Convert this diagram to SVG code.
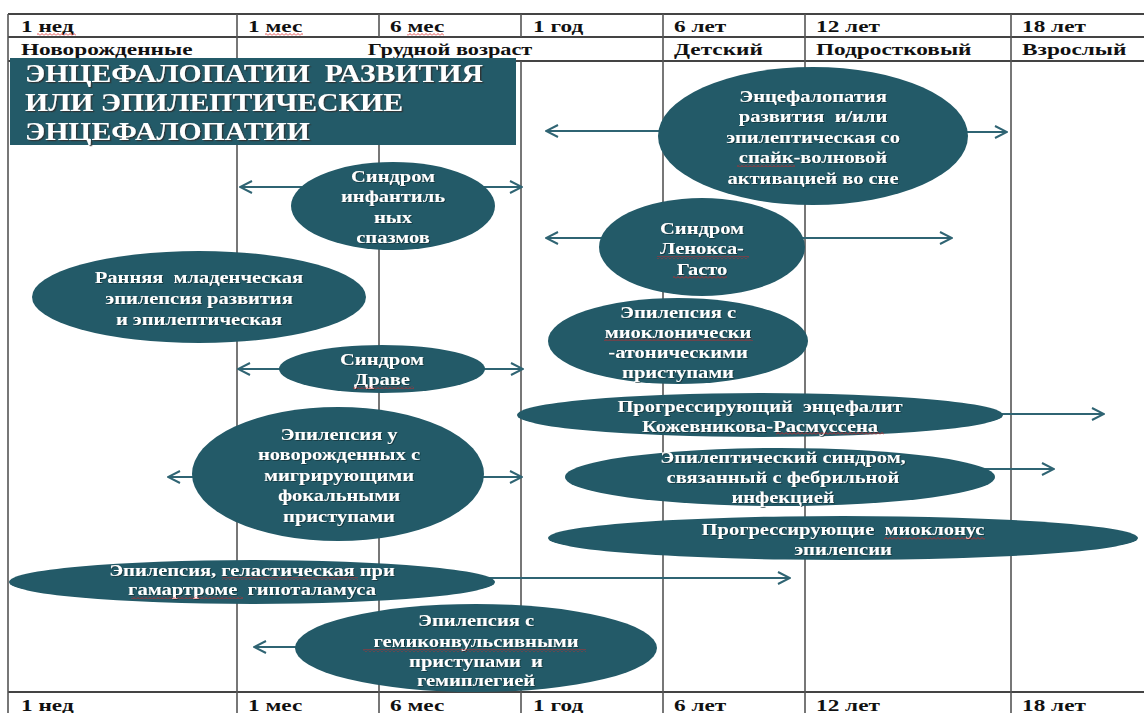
<svg xmlns="http://www.w3.org/2000/svg" width="1144" height="713" viewBox="0 0 1144 713">
<style>
.grid{stroke:#555;stroke-width:1.6;fill:none}
.hl{stroke:#444;stroke-width:2;fill:none}
.hd{font-family:"Liberation Serif",serif;font-weight:bold;font-size:17px;fill:#111}
.el{fill:#235a68}
.t{font-family:"Liberation Serif",serif;font-weight:bold;font-size:16px;fill:#fff;text-anchor:middle;filter:url(#sh)}
.tt{font-family:"Liberation Serif",serif;font-weight:bold;font-size:25px;fill:#fff;filter:url(#sh2)}
.ar{stroke:#2f6473;stroke-width:2.2;fill:none;marker-end:url(#ah)}
.wv{fill:url(#wave)}
</style>
<defs>
<marker id="ah" viewBox="0 0 14 14" refX="13" refY="7" markerWidth="14" markerHeight="14" markerUnits="userSpaceOnUse" orient="auto">
<path d="M1,1 L13,7 L1,13" fill="none" stroke="#2f6473" stroke-width="2"/>
</marker>
<filter id="sh" x="-10%" y="-30%" width="120%" height="160%">
<feDropShadow dx="0.8" dy="0.8" stdDeviation="0.4" flood-color="#0b2a30" flood-opacity="0.8"/>
</filter>
<filter id="sh2" x="-10%" y="-30%" width="120%" height="160%">
<feDropShadow dx="1.2" dy="1.2" stdDeviation="0.5" flood-color="#333" flood-opacity="0.9"/>
</filter>
<pattern id="wave" width="4" height="3" patternUnits="userSpaceOnUse">
<path d="M0,2.5 L2,0.5 L4,2.5" fill="none" stroke="#d22" stroke-width="0.8"/>
</pattern>
</defs>
<rect width="1144" height="713" fill="#fff"/>

<g id="grid">
<line class="hl" x1="8" y1="14" x2="1144" y2="14"/>
<line class="hl" x1="8" y1="37" x2="1144" y2="37"/>
<line class="hl" x1="8" y1="61" x2="1144" y2="61"/>
<line class="hl" x1="8" y1="692" x2="1144" y2="692" stroke-width="2.6"/>
<line class="grid" x1="8" y1="14" x2="8" y2="713"/>
<line class="grid" x1="237" y1="14" x2="237" y2="713"/>
<line class="grid" x1="379" y1="14" x2="379" y2="37"/>
<line class="grid" x1="379" y1="61" x2="379" y2="713"/>
<line class="grid" x1="521" y1="14" x2="521" y2="37"/>
<line class="grid" x1="521" y1="61" x2="521" y2="713"/>
<line class="grid" x1="663" y1="14" x2="663" y2="713"/>
<line class="grid" x1="805" y1="14" x2="805" y2="713"/>
<line class="grid" x1="1011" y1="14" x2="1011" y2="713"/>
</g>

<g id="header">
<text class="hd" transform="translate(21 32) scale(1.37 1)">1 нед</text>
<text class="hd" transform="translate(248 32) scale(1.37 1)">1 мес</text>
<text class="hd" transform="translate(390 32) scale(1.37 1)">6 мес</text>
<text class="hd" transform="translate(533 32) scale(1.37 1)">1 год</text>
<text class="hd" transform="translate(674 32) scale(1.37 1)">6 лет</text>
<text class="hd" transform="translate(816 32) scale(1.37 1)">12 лет</text>
<text class="hd" transform="translate(1022 32) scale(1.37 1)">18 лет</text>
<text class="hd" transform="translate(21 55) scale(1.37 1)">Новорожденные</text>
<text class="hd" transform="translate(450 55) scale(1.31 1)" text-anchor="middle">Грудной возраст</text>
<text class="hd" transform="translate(674 55) scale(1.37 1)">Детский</text>
<text class="hd" transform="translate(816 55) scale(1.37 1)">Подростковый</text>
<text class="hd" transform="translate(1022 55) scale(1.37 1)">Взрослый</text>
<text class="hd" transform="translate(21 711) scale(1.37 1)">1 нед</text>
<text class="hd" transform="translate(248 711) scale(1.37 1)">1 мес</text>
<text class="hd" transform="translate(390 711) scale(1.37 1)">6 мес</text>
<text class="hd" transform="translate(533 711) scale(1.37 1)">1 год</text>
<text class="hd" transform="translate(674 711) scale(1.37 1)">6 лет</text>
<text class="hd" transform="translate(816 711) scale(1.37 1)">12 лет</text>
<text class="hd" transform="translate(1022 711) scale(1.37 1)">18 лет</text>
</g>

<g id="title">
<rect x="10" y="58" width="506" height="87" fill="#235a68"/>
<text class="tt" transform="translate(25 82) scale(1.19 1)">ЭНЦЕФАЛОПАТИИ&#160; РАЗВИТИЯ</text>
<text class="tt" transform="translate(25 111) scale(1.19 1)">ИЛИ ЭПИЛЕПТИЧЕСКИЕ</text>
<text class="tt" transform="translate(25 140) scale(1.19 1)">ЭНЦЕФАЛОПАТИИ</text>
</g>

<g id="connectors">
<line class="ar" x1="700" y1="131" x2="546" y2="131"/>
<line class="ar" x1="930" y1="132" x2="1007" y2="132"/>
<line class="ar" x1="330" y1="187" x2="240" y2="187"/>
<line class="ar" x1="460" y1="187" x2="522" y2="187"/>
<line class="ar" x1="640" y1="238" x2="546" y2="238"/>
<line class="ar" x1="760" y1="238" x2="952" y2="238"/>
<line class="ar" x1="320" y1="369" x2="238" y2="369"/>
<line class="ar" x1="440" y1="369" x2="523" y2="369"/>
<line class="ar" x1="980" y1="414" x2="1104" y2="414"/>
<line class="ar" x1="220" y1="477" x2="168" y2="477"/>
<line class="ar" x1="460" y1="477" x2="522" y2="477"/>
<line class="ar" x1="960" y1="469" x2="1054" y2="469"/>
<line class="ar" x1="450" y1="578" x2="790" y2="578"/>
<line class="ar" x1="330" y1="647" x2="254" y2="647"/>
</g>

<g id="n1">
<ellipse class="el" cx="813" cy="136" rx="155" ry="69"/>
<g transform="translate(813 0) scale(1.28 1)">
<text class="t" x="0" y="102">Энцефалопатия</text>
<text class="t" x="0" y="122">развития&#160; и/или</text>
<text class="t" x="0" y="143">эпилептическая со</text>
<text class="t" x="0" y="163">спайк-волновой</text>
<text class="t" x="0" y="184">активацией во сне</text>
</g>
</g>

<g id="n2">
<ellipse class="el" cx="393" cy="206" rx="102" ry="44"/>
<g transform="translate(393 0) scale(1.28 1)">
<text class="t" x="0" y="182">Синдром</text>
<text class="t" x="0" y="202">инфантиль</text>
<text class="t" x="0" y="223">ных</text>
<text class="t" x="0" y="243">спазмов</text>
</g>
</g>

<g id="n3">
<ellipse class="el" cx="702" cy="247" rx="103" ry="49"/>
<g transform="translate(702 0) scale(1.28 1)">
<text class="t" x="0" y="234">Синдром</text>
<text class="t" x="0" y="254">Ленокса-</text>
<text class="t" x="0" y="275">Гасто</text>
</g>
</g>

<g id="n4">
<ellipse class="el" cx="199" cy="297" rx="167" ry="46"/>
<g transform="translate(199 0) scale(1.28 1)">
<text class="t" x="0" y="283">Ранняя&#160; младенческая</text>
<text class="t" x="0" y="304">эпилепсия развития</text>
<text class="t" x="0" y="325">и эпилептическая</text>
</g>
</g>

<g id="n5">
<ellipse class="el" cx="678" cy="341" rx="130" ry="43"/>
<g transform="translate(678 0) scale(1.28 1)">
<text class="t" x="0" y="318">Эпилепсия с</text>
<text class="t" x="0" y="338">миоклонически</text>
<text class="t" x="0" y="358">-атоническими</text>
<text class="t" x="0" y="378">приступами</text>
</g>
</g>

<g id="n6">
<ellipse class="el" cx="382" cy="369" rx="103" ry="24"/>
<g transform="translate(382 0) scale(1.28 1)">
<text class="t" x="0" y="365">Синдром</text>
<text class="t" x="0" y="385">Драве</text>
</g>
</g>

<g id="n7">
<ellipse class="el" cx="760" cy="415" rx="243" ry="22"/>
<g transform="translate(760 0) scale(1.28 1)">
<text class="t" x="0" y="412">Прогрессирующий&#160; энцефалит</text>
<text class="t" x="0" y="432">Кожевникова-Расмуссена</text>
</g>
</g>

<g id="n8">
<ellipse class="el" cx="338" cy="474" rx="146" ry="67"/>
<g transform="translate(339 0) scale(1.28 1)">
<text class="t" x="0" y="440">Эпилепсия у</text>
<text class="t" x="0" y="460">новорожденных с</text>
<text class="t" x="0" y="481">мигрирующими</text>
<text class="t" x="0" y="501">фокальными</text>
<text class="t" x="0" y="522">приступами</text>
</g>
</g>

<g id="n9">
<ellipse class="el" cx="780" cy="477" rx="215" ry="29"/>
<g transform="translate(783 0) scale(1.28 1)">
<text class="t" x="0" y="463">Эпилептический синдром,</text>
<text class="t" x="0" y="483">связанный с фебрильной</text>
<text class="t" x="0" y="503">инфекцией</text>
</g>
</g>

<g id="n10">
<ellipse class="el" cx="843" cy="538" rx="295" ry="22"/>
<g transform="translate(843 0) scale(1.28 1)">
<text class="t" x="0" y="535">Прогрессирующие&#160; миоклонус</text>
<text class="t" x="0" y="555">эпилепсии</text>
</g>
</g>

<g id="n11">
<ellipse class="el" cx="252" cy="582" rx="243" ry="22"/>
<g transform="translate(252 0) scale(1.28 1)">
<text class="t" x="0" y="576">Эпилепсия, геластическая при</text>
<text class="t" x="0" y="595">гамартроме&#160; гипоталамуса</text>
</g>
</g>

<g id="n12">
<ellipse class="el" cx="476" cy="648" rx="181" ry="44"/>
<g transform="translate(476 0) scale(1.28 1)">
<text class="t" x="0" y="626">Эпилепсия с</text>
<text class="t" x="0" y="647">гемиконвульсивными</text>
<text class="t" x="0" y="667">приступами&#160; и</text>
<text class="t" x="0" y="686">гемиплегией</text>
</g>
</g>

<g id="spellmarks">
<rect class="wv" x="37" y="33" width="39" height="3"/>
<rect class="wv" x="265" y="33" width="38" height="3"/>
<rect class="wv" x="407" y="33" width="37" height="3"/>
<rect class="wv" x="737" y="164" width="58" height="3"/>
<rect class="wv" x="657" y="256" width="92" height="3"/>
<rect class="wv" x="673" y="276" width="54" height="3"/>
<rect class="wv" x="604" y="338" width="149" height="3"/>
<rect class="wv" x="353" y="386" width="61" height="3"/>
<rect class="wv" x="776" y="432" width="108" height="3"/>
<rect class="wv" x="884" y="537" width="101" height="3"/>
<rect class="wv" x="222" y="577" width="136" height="3"/>
<rect class="wv" x="131" y="596" width="112" height="3"/>
<rect class="wv" x="363" y="649" width="223" height="3"/>
</g>
</svg>
